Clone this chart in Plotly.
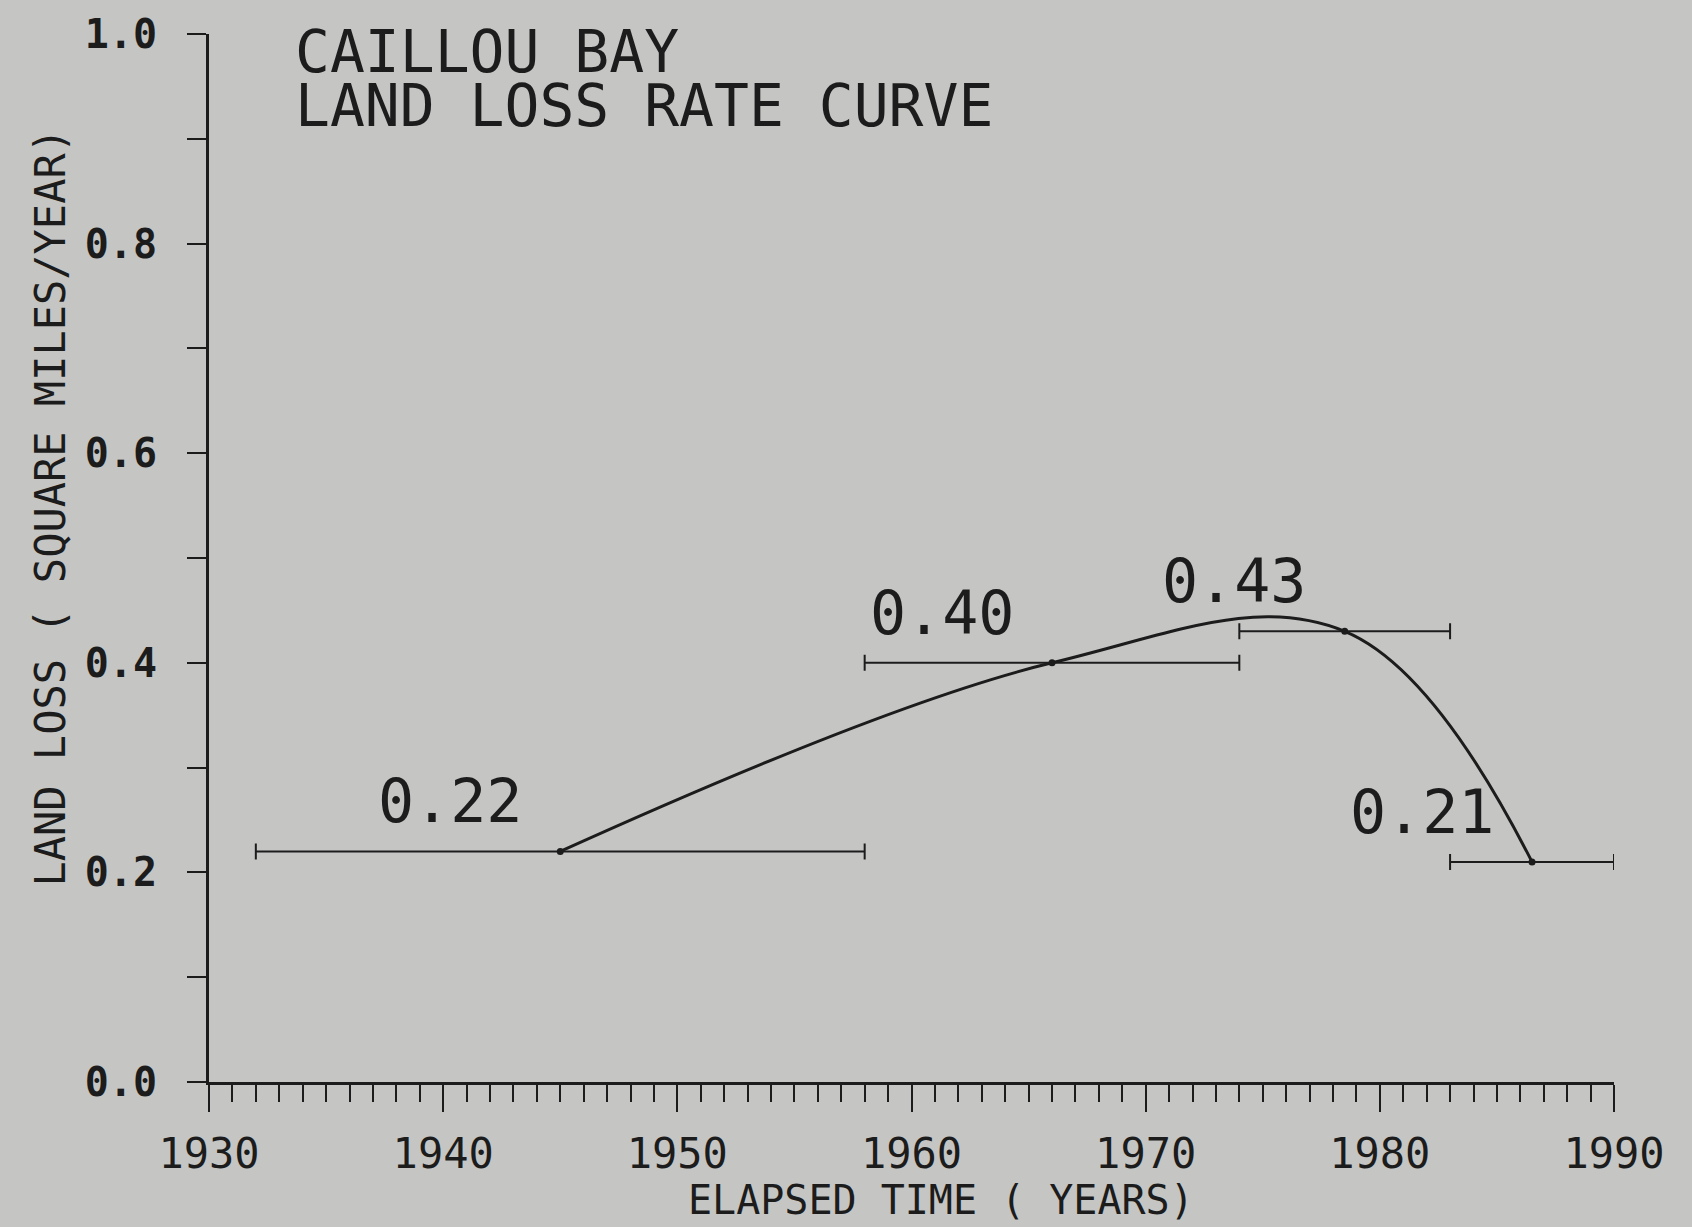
import plotly.graph_objects as go

# ---- data ----
period_start = [1932, 1958, 1974, 1983]
period_end = [1958, 1974, 1983, 1990]
loss_rate = [0.22, 0.40, 0.43, 0.21]
rate_labels = ["0.22", "0.40", "0.43", "0.21"]
y_ticks = [0.0, 0.2, 0.4, 0.6, 0.8, 1.0]
x_ticks = [1930, 1940, 1950, 1960, 1970, 1980, 1990]
title_lines = ["CAILLOU BAY", "LAND LOSS RATE CURVE"]

mid_year = [(a + b) / 2 for a, b in zip(period_start, period_end)]
err_plus = [b - m for b, m in zip(period_end, mid_year)]
err_minus = [m - a for a, m in zip(period_start, mid_year)]

INK = "#1c1c1c"
BG = "#c5c6c4"
FONT = "DejaVu Sans Mono"

fig = go.Figure()

fig.add_trace(go.Scatter(
    x=mid_year, y=loss_rate, mode="lines",
    line=dict(color=INK, width=3, shape="spline", smoothing=1.1),
    hoverinfo="skip", showlegend=False,
))

fig.add_trace(go.Scatter(
    x=mid_year, y=loss_rate, mode="markers",
    marker=dict(color=INK, size=7),
    error_x=dict(type="data", symmetric=False, array=err_plus, arrayminus=err_minus,
                 color=INK, thickness=2, width=8),
    showlegend=False,
))

for x, y, t in zip(mid_year, loss_rate, rate_labels):
    fig.add_annotation(x=x, y=y, text=t, showarrow=False, xshift=-110, yshift=50,
                       xanchor="center", yanchor="middle",
                       font=dict(family=FONT, size=60, color=INK))

for i, line in enumerate(title_lines):
    fig.add_annotation(x=1933.6, y=[0.983, 0.931][i], text=line, showarrow=False,
                       xanchor="left", yanchor="middle",
                       font=dict(family=FONT, size=58, color=INK))

fig.add_annotation(xref="paper", yref="paper", x=-0.1125, y=0.549,
                   xanchor="center", yanchor="middle",
                   text="LAND LOSS ( SQUARE MILES/YEAR)", textangle=-90,
                   showarrow=False, font=dict(family=FONT, size=42, color=INK))
fig.add_annotation(xref="paper", yref="paper", x=0.521, y=-0.1126,
                   xanchor="center", yanchor="middle",
                   text="ELAPSED TIME ( YEARS)", showarrow=False,
                   font=dict(family=FONT, size=40, color=INK))

fig.update_xaxes(
    range=[1930, 1990], tickvals=x_ticks, ticktext=[str(v) for v in x_ticks],
    ticks="outside", ticklen=27, tickwidth=2, tickcolor=INK,
    showline=True, linecolor=INK, linewidth=3,
    showgrid=False, zeroline=False,
    tickfont=dict(family=FONT, size=42, color=INK),
    ticklabelstandoff=6,
    minor=dict(dtick=1, tick0=1930, ticks="outside", ticklen=17, tickwidth=2, tickcolor=INK),
)
fig.update_yaxes(
    range=[0, 1.0], tickvals=y_ticks, ticktext=["%.1f" % v for v in y_ticks],
    ticks="outside", ticklen=19, tickwidth=2, tickcolor=INK,
    showline=True, linecolor=INK, linewidth=3,
    showgrid=False, zeroline=False,
    tickfont=dict(family=FONT, size=40, color=INK, weight="bold"),
    ticklabelstandoff=22,
    minor=dict(dtick=0.1, tick0=0, ticks="outside", ticklen=19, tickwidth=2, tickcolor=INK),
)

fig.update_layout(
    width=1692, height=1227,
    margin=dict(l=209, r=78, t=34, b=145),
    paper_bgcolor=BG, plot_bgcolor=BG,
    showlegend=False,
)

fig.write_html("out.html", config={"displayModeBar": False})

# remove the browser's default page margin so the figure fills the window
with open("out.html", encoding="utf-8") as f:
    html = f.read()
html = html.replace("<head>", "<head><style>html,body{margin:0;padding:0;background:%s;}</style>" % BG, 1)
with open("out.html", "w", encoding="utf-8") as f:
    f.write(html)
